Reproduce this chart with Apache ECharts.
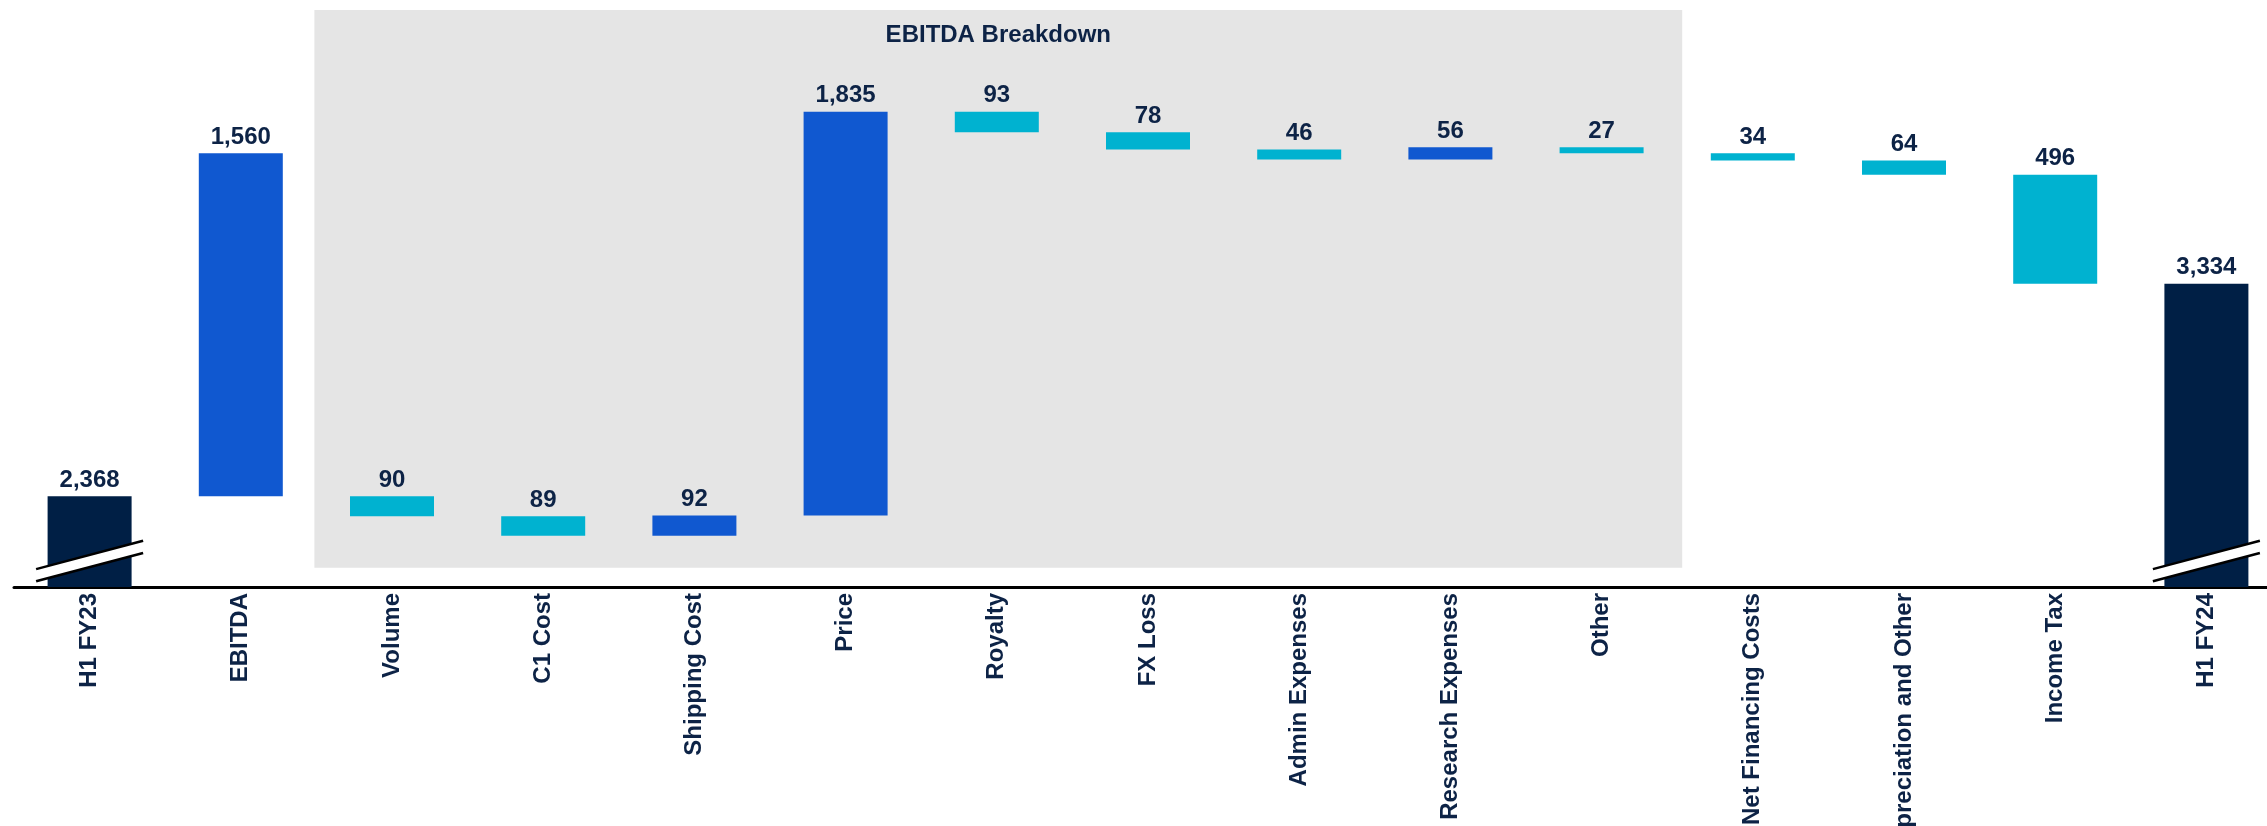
<!DOCTYPE html>
<html>
<head>
<meta charset="utf-8">
<script src="https://cdn.jsdelivr.net/npm/echarts@6/dist/echarts.min.js"></script>
<style>
  html, body { margin: 0; padding: 0; background: #ffffff; }
  #chart { width: 2267px; height: 826px; }
</style>
</head>
<body>
<div id="chart"></div>
<script>
// Bridge from H1 FY23 to H1 FY24 (US$m)
const categories = [
  'H1 FY23', 'EBITDA', 'Volume', 'C1 Cost', 'Shipping Cost', 'Price', 'Royalty',
  'FX Loss', 'Admin Expenses', 'Research Expenses', 'Other', 'Net Financing Costs',
  'Depreciation and Other', 'Income Tax', 'H1 FY24'
];
// Signed movements; totals hold the closing level
const changes = [2368, 1560, -90, -89, 92, 1835, -93, -78, -46, 56, -27, -34, -64, -496, 3334];
// 'total' = level bar, 'summary' = drawn from the running level without advancing it,
// 'step' = ordinary movement that advances the running level
const kinds = [
  'total', 'summary', 'step', 'step', 'step', 'step', 'step',
  'step', 'step', 'step', 'step', 'step', 'step', 'step', 'total'
];
const breakdownFirst = 'Volume';
const breakdownLast = 'Other';
const breakdownTitle = 'EBITDA Breakdown';

// Scale and decoration settings
const AXIS_MIN = 1956;
const AXIS_MAX = 4624;
const PANEL_TOP = 4578;
const PANEL_BOTTOM = 2043;
const BREAK_AT = 2074;

const NAVY = '#001f45';
const BLUE = '#1058d0';
const CYAN = '#00b2d0';
const TEXT = '#0d2346';
const FONT = '"Liberation Sans", Arial, Helvetica, sans-serif';

// Build the invisible offsets and visible segments of the waterfall
const baseData = [];
const deltaData = [];
let level = 0;
changes.forEach((v, i) => {
  const kind = kinds[i];
  let base, color;
  if (kind === 'total') {
    base = 0;
    level = v;
    color = NAVY;
  } else if (kind === 'summary') {
    base = v >= 0 ? level : level + v;
    color = v >= 0 ? BLUE : CYAN;
  } else {
    const end = level + v;
    base = Math.min(level, end);
    level = end;
    color = v >= 0 ? BLUE : CYAN;
  }
  baseData.push(base);
  deltaData.push({ value: Math.abs(v), itemStyle: { color: color } });
});

const totalIdx = kinds.map((k, i) => (k === 'total' ? [i, BREAK_AT] : null)).filter(Boolean);

const chart = echarts.init(document.getElementById('chart'), null, { renderer: 'canvas' });

chart.setOption({
  animation: false,
  backgroundColor: '#ffffff',
  grid: {
    left: 14, top: 0, width: 2268, height: 587,
    containLabel: false,
    outerBoundsMode: 'none'
  },
  xAxis: {
    type: 'category',
    data: categories,
    axisLine: { show: true, lineStyle: { color: '#000000', width: 3 } },
    axisTick: { show: false },
    axisLabel: {
      interval: 0,
      rotate: 90,
      margin: 6,
      color: TEXT,
      fontFamily: FONT,
      fontWeight: 'bold',
      fontSize: 24
    },
    splitLine: { show: false }
  },
  yAxis: {
    type: 'value',
    min: AXIS_MIN,
    max: AXIS_MAX,
    show: false,
    splitLine: { show: false }
  },
  series: [
    {
      // Shaded panel grouping the EBITDA components
      type: 'custom',
      z: 1,
      silent: true,
      data: [[categories.indexOf(breakdownFirst), categories.indexOf(breakdownLast)]],
      renderItem: function (params, api) {
        const band = api.size([1, 0])[0];
        const a = api.coord([api.value(0), PANEL_TOP]);
        const b = api.coord([api.value(1), PANEL_BOTTOM]);
        const x0 = a[0] - band / 2 - 2;
        const x1 = b[0] + band / 2 + 5;
        return {
          type: 'group',
          children: [
            {
              type: 'rect',
              shape: { x: x0, y: a[1], width: x1 - x0, height: b[1] - a[1] },
              style: { fill: '#e5e5e5' }
            },
            {
              type: 'text',
              x: (x0 + x1) / 2,
              y: a[1] + 25,
              style: {
                text: breakdownTitle,
                fill: TEXT,
                font: 'bold 24px ' + FONT,
                align: 'center',
                verticalAlign: 'middle'
              }
            }
          ]
        };
      }
    },
    {
      type: 'bar',
      stack: 'bridge',
      barWidth: 84,
      silent: true,
      z: 2,
      itemStyle: { color: 'rgba(0,0,0,0)' },
      data: baseData
    },
    {
      type: 'bar',
      stack: 'bridge',
      barWidth: 84,
      z: 2,
      data: deltaData,
      label: {
        show: true,
        position: 'top',
        distance: 4,
        color: TEXT,
        fontFamily: FONT,
        fontWeight: 'bold',
        fontSize: 24,
        formatter: function (p) {
          return Number(p.value).toLocaleString('en-US');
        }
      }
    },
    {
      // Axis-break marks on the level bars
      type: 'custom',
      z: 5,
      silent: true,
      data: totalIdx,
      renderItem: function (params, api) {
        const c = api.coord([api.value(0), api.value(1)]);
        const hw = 53.5, rise = 14.15, gap = 6.1;
        const ul = [c[0] - hw, c[1] + rise - gap];
        const ur = [c[0] + hw, c[1] - rise - gap];
        const ll = [c[0] - hw, c[1] + rise + gap];
        const lr = [c[0] + hw, c[1] - rise + gap];
        return {
          type: 'group',
          children: [
            { type: 'polygon', shape: { points: [ul, ur, lr, ll] }, style: { fill: '#ffffff' } },
            { type: 'line', shape: { x1: ul[0], y1: ul[1], x2: ur[0], y2: ur[1] }, style: { stroke: '#000000', lineWidth: 2.5 } },
            { type: 'line', shape: { x1: ll[0], y1: ll[1], x2: lr[0], y2: lr[1] }, style: { stroke: '#000000', lineWidth: 2.5 } }
          ]
        };
      }
    }
  ]
});
</script>
</body>
</html>
